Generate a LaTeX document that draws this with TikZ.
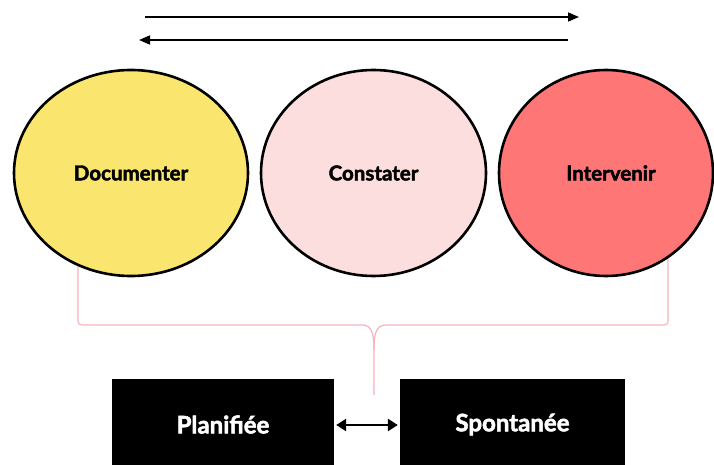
\documentclass[tikz,border=0pt]{standalone}
\usepackage{fontspec}
\setmainfont{Lato}[BoldFeatures={FakeBold=2.2}]
\usetikzlibrary{shapes.geometric,arrows.meta}
\definecolor{cyellow}{RGB}{250,230,110}
\definecolor{cpink}{RGB}{253,222,222}
\definecolor{cred}{RGB}{255,118,118}
\definecolor{cbrace}{RGB}{246,178,188}
\tikzset{
  blob/.style={ellipse, draw=black, line width=2.6pt, inner sep=0pt, minimum height=206pt, font=\bfseries\fontsize{20.5}{22}\selectfont},
  blabel/.style={font=\bfseries\fontsize{20.5}{22}\selectfont},
  blackbox/.style={rectangle, fill=black, inner sep=0pt, text=white, font=\bfseries\fontsize{24}{26}\selectfont},
  flowarrow/.style={line width=1.6pt, -{Triangle[length=11pt,width=9pt]}},
  twoway/.style={line width=2.8pt, {Triangle[length=10pt,width=12pt]}-{Triangle[length=10pt,width=12pt]}, shorten <=2pt, shorten >=2pt},
  bracket/.style={draw=cbrace, line width=1.2pt}
}
\begin{document}
\begin{tikzpicture}[x=1pt,y=-1pt]
\useasboundingbox (0,0) rectangle (714,465);
% top arrows
\coordinate (a1s) at (145,17);
\coordinate (a1e) at (579,17);
\coordinate (a2s) at (568,40);
\coordinate (a2e) at (139,40);
\draw[flowarrow] (a1s) -- (a1e);
\draw[flowarrow] (a2s) -- (a2e);
% bracket
\coordinate (bl) at (78,255);
\coordinate (br) at (668,255);
\coordinate (bt) at (374,395);
\draw[bracket] (bl) -- (78,317) .. controls (78,325) .. (86,325) -- (362,325) .. controls (372,325) and (374,334) .. (374,350) -- (bt);
\draw[bracket] (br) -- (668,317) .. controls (668,325) .. (660,325) -- (386,325) .. controls (376,325) and (374,334) .. (374,350);
% ellipses
\node[blob, fill=cyellow, minimum width=234pt] (doc) at (131,173) {Documenter};
\node[blob, fill=cpink, minimum width=225pt] (con) at (373.5,173) {Constater};
\node[blob, fill=cred, minimum width=214pt] (int) at (606,173) {};
\node[blabel] (intt) at (611,173) {Intervenir};
% boxes
\node[blackbox, minimum width=222pt, minimum height=91pt] (pl) at (223,424.5) {Planifiée};
\node[blackbox, minimum width=225pt, minimum height=91pt] (sp) at (512.5,424.5) {Spontanée};
\draw[twoway] (pl.east |- 0,425) -- (sp.west |- 0,425);
\end{tikzpicture}
\end{document}
